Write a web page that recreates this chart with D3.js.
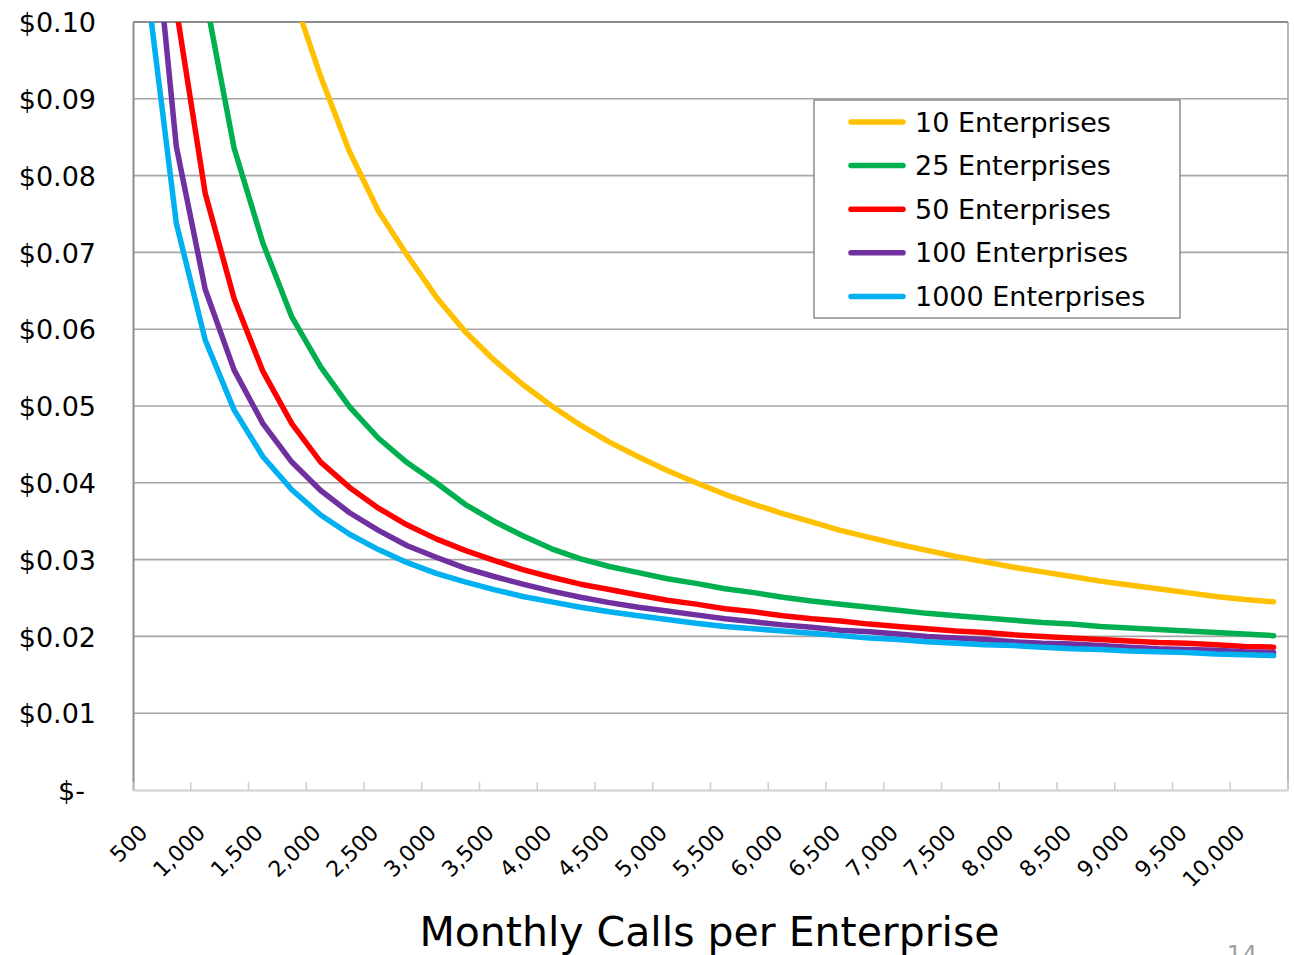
<!DOCTYPE html>
<html>
<head>
<meta charset="utf-8">
<script src="https://cdn.jsdelivr.net/npm/d3@7"></script>
<style>
  html, body { margin: 0; padding: 0; background: #fff; }
  svg { display: block; font-family: "DejaVu Sans", sans-serif; }
</style>
</head>
<body>
<svg id="chart" width="1294" height="955"></svg>
<script>
// Monthly calls per enterprise (category axis, every 250 calls)
const callsPerMonth = [500, 750, 1000, 1250, 1500, 1750, 2000, 2250, 2500, 2750,
  3000, 3250, 3500, 3750, 4000, 4250, 4500, 4750, 5000, 5250,
  5500, 5750, 6000, 6250, 6500, 6750, 7000, 7250, 7500, 7750,
  8000, 8250, 8500, 8750, 9000, 9250, 9500, 9750, 10000, 10250];

// Categories that carry a label on the x axis
const labelledCalls = [500, 1000, 1500, 2000, 2500, 3000, 3500, 4000, 4500, 5000,
  5500, 6000, 6500, 7000, 7500, 8000, 8500, 9000, 9500, 10000];

// Cost per call ($) for each number of enterprises on the platform
const cost10 = [0.344, 0.232, 0.176, 0.1424, 0.120, 0.104, 0.0929, 0.0831, 0.0754, 0.0696,
  0.0642, 0.0597, 0.0560, 0.0528, 0.0500, 0.0475, 0.0453, 0.0434, 0.0416, 0.0400,
  0.0385, 0.0372, 0.0360, 0.0349, 0.0338, 0.0329, 0.0320, 0.0312, 0.0304, 0.0297,
  0.0290, 0.0284, 0.0278, 0.0272, 0.0267, 0.0262, 0.0257, 0.0252, 0.0248, 0.0245];
const cost25 = [0.200, 0.136, 0.1034, 0.0836, 0.0712, 0.0616, 0.0551, 0.0499, 0.0458, 0.0426,
  0.0400, 0.0372, 0.0350, 0.0331, 0.0314, 0.0301, 0.0291, 0.0283, 0.0275, 0.0269,
  0.0262, 0.0257, 0.0251, 0.0246, 0.0242, 0.0238, 0.0234, 0.0230, 0.0227, 0.0224,
  0.0221, 0.0218, 0.0216, 0.0213, 0.0211, 0.0209, 0.0207, 0.0205, 0.0203, 0.0201];
const cost50 = [0.150, 0.1017, 0.0777, 0.0640, 0.0545, 0.0477, 0.0427, 0.0394, 0.0367, 0.0345,
  0.0327, 0.0312, 0.0299, 0.0287, 0.0277, 0.0268, 0.0261, 0.0254, 0.0247, 0.0242,
  0.0236, 0.0232, 0.0227, 0.0223, 0.0220, 0.0216, 0.0213, 0.0210, 0.0207, 0.0205,
  0.0202, 0.0200, 0.0198, 0.0196, 0.0194, 0.0192, 0.0191, 0.0189, 0.0187, 0.0186];
const cost100 = [0.122, 0.0838, 0.0652, 0.0547, 0.0477, 0.0427, 0.0390, 0.0361, 0.0338, 0.0318,
  0.0303, 0.0289, 0.0278, 0.0268, 0.0259, 0.0251, 0.0244, 0.0238, 0.0233, 0.0228,
  0.0223, 0.0219, 0.0215, 0.0212, 0.0208, 0.0206, 0.0203, 0.0200, 0.0198, 0.0196,
  0.0193, 0.0191, 0.0190, 0.0188, 0.0186, 0.0184, 0.0183, 0.0182, 0.0180, 0.0179];
const cost1000 = [0.1042, 0.0738, 0.0586, 0.0495, 0.0434, 0.0391, 0.0358, 0.0333, 0.0313, 0.0296,
  0.0282, 0.0271, 0.0261, 0.0252, 0.0245, 0.0238, 0.0232, 0.0227, 0.0222, 0.0217,
  0.0213, 0.0210, 0.0207, 0.0204, 0.0201, 0.0198, 0.0196, 0.0193, 0.0191, 0.0189,
  0.0188, 0.0186, 0.0184, 0.0183, 0.0181, 0.0180, 0.0179, 0.0177, 0.0176, 0.0175];

const seriesNames = ["10 Enterprises", "25 Enterprises", "50 Enterprises", "100 Enterprises", "1000 Enterprises"];
const seriesValues = [cost10, cost25, cost50, cost100, cost1000];
const seriesColors = ["#FFC000", "#00B050", "#FF0000", "#7030A0", "#00B0F0"];

const yTicks = [0, 0.01, 0.02, 0.03, 0.04, 0.05, 0.06, 0.07, 0.08, 0.09, 0.10];
const xTitle = "Monthly Calls per Enterprise";
const pageNumber = "14";

// ---- layout ----
const plot = { left: 133, right: 1288, top: 22, bottom: 790 };
const svg = d3.select("#chart");

const x = d3.scalePoint().domain(callsPerMonth).range([plot.left, plot.right]).padding(0.5);
const xBand = d3.scaleBand().domain(callsPerMonth).range([plot.left, plot.right]);
const y = d3.scaleLinear().domain([0, 0.10]).range([plot.bottom, plot.top]);

svg.append("rect").attr("width", 1294).attr("height", 955).attr("fill", "#fff");

// horizontal gridlines
svg.append("g")
  .selectAll("line")
  .data(yTicks.filter(t => t > 0 && t < 0.10))
  .join("line")
  .attr("x1", plot.left).attr("x2", plot.right)
  .attr("y1", d => y(d)).attr("y2", d => y(d))
  .attr("stroke", "#a6a6a6").attr("stroke-width", 1.6);

// top and right borders of the plot area
svg.append("line")
  .attr("x1", plot.left).attr("x2", plot.right)
  .attr("y1", y(0.10)).attr("y2", y(0.10))
  .attr("stroke", "#8c8c8c").attr("stroke-width", 1.8);
svg.append("line")
  .attr("x1", plot.right).attr("x2", plot.right)
  .attr("y1", plot.top).attr("y2", plot.bottom)
  .attr("stroke", "#a6a6a6").attr("stroke-width", 1.6);

// y axis
const yAxis = svg.append("g")
  .attr("transform", `translate(${plot.left},0)`)
  .call(d3.axisLeft(y)
    .tickValues(yTicks)
    .tickSize(0)
    .tickPadding(37)
    .tickFormat(d => d === 0 ? "$-" : "$" + d.toFixed(2)));
yAxis.select(".domain").attr("stroke", "#8c8c8c").attr("stroke-width", 2);
yAxis.selectAll("text")
  .attr("font-family", "DejaVu Sans, sans-serif")
  .attr("font-size", 27)
  .attr("fill", "#000")
  .attr("dy", "0.36em")
  .filter(d => d === 0).attr("dx", -11);

// x axis: labels on every other category
const xAxis = svg.append("g")
  .attr("transform", `translate(0,${plot.bottom})`)
  .call(d3.axisBottom(x)
    .tickValues(labelledCalls)
    .tickSize(0)
    .tickFormat(d3.format(",")));
xAxis.select(".domain").attr("stroke", "#d0d0d0").attr("stroke-width", 2);
xAxis.selectAll("text")
  .attr("font-family", "DejaVu Sans, sans-serif")
  .attr("font-size", 22)
  .attr("fill", "#000")
  .attr("text-anchor", "end")
  .attr("y", null).attr("dy", null)
  .attr("transform", "translate(1,44) rotate(-45)");

// tick marks between every pair of categories
const tickEdges = callsPerMonth.filter((c, i) => i % 2 === 0).map(c => xBand(c)).concat([plot.right]);
svg.append("g")
  .selectAll("line")
  .data(tickEdges)
  .join("line")
  .attr("x1", d => d).attr("x2", d => d)
  .attr("y1", plot.bottom).attr("y2", plot.bottom - 8)
  .attr("stroke", "#d0d0d0").attr("stroke-width", 1.6);

// series lines, clipped to the plot area
svg.append("clipPath").attr("id", "plot-clip")
  .append("rect")
  .attr("x", plot.left).attr("y", plot.top)
  .attr("width", plot.right - plot.left).attr("height", plot.bottom - plot.top);

const line = d3.line()
  .x((d, i) => x(callsPerMonth[i]))
  .y(d => y(d));

svg.append("g")
  .attr("clip-path", "url(#plot-clip)")
  .selectAll("path")
  .data(seriesValues)
  .join("path")
  .attr("d", d => line(d))
  .attr("fill", "none")
  .attr("stroke", (d, i) => seriesColors[i])
  .attr("stroke-width", 5.5)
  .attr("stroke-linejoin", "round")
  .attr("stroke-linecap", "round");

// legend
const legend = svg.append("g");
legend.append("rect")
  .attr("x", 814).attr("y", 100).attr("width", 366).attr("height", 218)
  .attr("fill", "#fff").attr("stroke", "#8c8c8c").attr("stroke-width", 1.5);
const rows = legend.selectAll("g.row")
  .data(seriesNames)
  .join("g")
  .attr("class", "row")
  .attr("transform", (d, i) => `translate(0,${122 + i * 43.6})`);
rows.append("line")
  .attr("x1", 851).attr("x2", 903).attr("y1", 0).attr("y2", 0)
  .attr("stroke", (d, i) => seriesColors[i])
  .attr("stroke-width", 5.5).attr("stroke-linecap", "round");
rows.append("text")
  .attr("x", 915).attr("y", 9.5)
  .attr("font-size", 27).attr("fill", "#000")
  .text(d => d);

// axis title
svg.append("text")
  .attr("x", (plot.left + plot.right) / 2 - 1)
  .attr("y", 946)
  .attr("text-anchor", "middle")
  .attr("font-size", 41)
  .attr("fill", "#000")
  .text(xTitle);

// page number
svg.append("text")
  .attr("x", 1242).attr("y", 963)
  .attr("text-anchor", "middle")
  .attr("font-size", 24)
  .attr("fill", "#a0a0a0")
  .text(pageNumber);
</script>
</body>
</html>
